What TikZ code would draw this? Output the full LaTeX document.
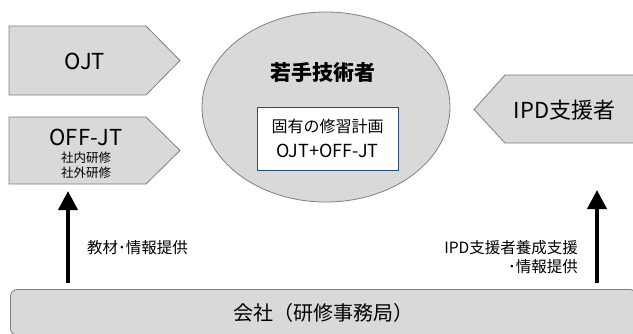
\documentclass[tikz,border=0pt]{standalone}
\usepackage{fontspec}
\setmainfont{Noto Sans CJK JP}
\usetikzlibrary{shapes.geometric, arrows.meta, positioning}
\definecolor{box-gray}{HTML}{D9D9D9}
\definecolor{line-gray}{HTML}{7F7F7F}
\definecolor{plan-blue}{HTML}{2F4B7C}
\newcommand{\fsz}[2]{\fontsize{#1}{#2}\selectfont}

\begin{document}
\begin{tikzpicture}[x=1pt, y=-1pt,
      every node/.style={inner sep=0pt},
      tab/.style={fill=box-gray, draw=line-gray, line width=0.8pt},
      uparrow/.style={-{Triangle[width=19pt, length=19pt]}, line width=4pt}]
    \clip (0,0) rectangle (633,333);
    % training tabs
    \draw[tab] (9,26) -- (146,26) -- (180,60.5) -- (146,95) -- (9,95) -- cycle;
    \node[font=\fsz{22}{26}] (ojt) at (85,61) {OJT};
    \draw[tab] (9,117) -- (146,117) -- (180,150.5) -- (146,184) -- (9,184) -- cycle;
    \node[font=\fsz{22}{26}] (offjt) at (86,137) {OFF-JT};
    \node[font=\fsz{12.5}{15}, align=center] (offjt-sub) at (86,165.5)
          {社内研修\\社外研修};
    \draw[tab] (645,75) -- (505,75) -- (474,109.5) -- (505,143) -- (645,143) -- cycle;
    \node[font=\fsz{22}{26}] (ipd) at (564.5,110) {IPD支援者};
    % trainee
    \node[ellipse, tab, minimum width=248pt, minimum height=190pt] (trainee)
          at (326,107) {};
    \node[font=\fsz{21}{25}\bfseries] (trainee-title) at (323,72) {若手技術者};
    \node[draw=plan-blue, fill=white, line width=0.8pt, minimum width=141pt,
          minimum height=63pt, align=center, font=\fsz{16}{25}] (plan)
          at (327.5,138.5) {固有の修習計画\\{\fsz{18}{25}OJT+OFF-JT}};
    % company
    \node[tab, rounded corners=7pt, minimum width=626pt, minimum height=46pt,
          anchor=north west, font=\fsz{20}{24}] (office) at (10,289)
          {会社（研修事務局）};
    \coordinate (offjt-tip) at (68,191);
    \coordinate (ipd-tip) at (597,190);
    \draw[uparrow, shorten <=6pt] (office.north -| offjt-tip) -- (offjt-tip);
    \draw[uparrow, shorten <=6pt] (office.north -| ipd-tip) -- (ipd-tip);
    \node[anchor=west, font=\fsz{15.5}{19}] (material-label) at (87,248)
          {教材･情報提供};
    \node[anchor=east, align=right, font=\fsz{15.5}{19}] (support-label)
          at (578,257.5) {IPD支援者養成支援\\･情報提供};
  \end{tikzpicture}
\end{document}
